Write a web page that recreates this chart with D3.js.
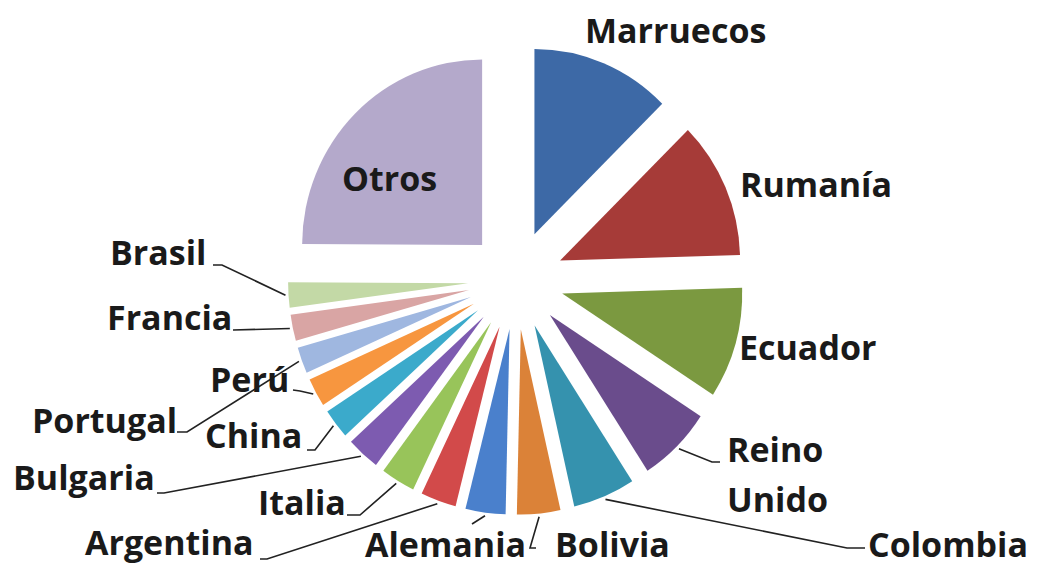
<!DOCTYPE html>
<html>
<head>
<meta charset="utf-8">
<script src="https://cdn.jsdelivr.net/npm/d3@7"></script>
<style>
  body { margin: 0; background: #fff; }
  svg { display: block; }
  .lbl { font-family: "Open Sans", sans-serif; font-weight: 700; font-size: 34px; fill: #1a1a1a; }
</style>
</head>
<body>
<svg id="chart" width="1039" height="569"></svg>
<script>
// data, clockwise from 12 o'clock
const categories = ["Marruecos", "Rumanía", "Ecuador", "Reino Unido", "Colombia", "Bolivia",
  "Alemania", "Argentina", "Italia", "Bulgaria", "China", "Perú", "Portugal", "Francia", "Brasil", "Otros"];
const values = [12.6, 12.0, 9.7, 6.7, 5.6, 3.9, 3.6, 3.2, 3.1, 3.0, 2.6, 2.5, 2.3, 2.3, 2.2, 25.0];
const colors = ["#3d69a6", "#a63b38", "#7b9940", "#6a4c8c", "#3592ae", "#db8238",
  "#4a80cc", "#d24a4a", "#98c45a", "#7d5bb0", "#3baacb", "#f7963f", "#9fb7e0", "#d9a5a4", "#c3d9a6", "#b4a9cb"];

// label layout: text start + baseline, optional leader (points from the text side)
const labelPos = {
  "Marruecos":   { x: 585, y: 43 },
  "Rumanía":     { x: 740, y: 197 },
  "Ecuador":     { x: 739, y: 360 },
  "Reino Unido": { x: 727, y: 462, lines: ["Reino", "Unido"], lead: [[720, 462], [712, 462]] },
  "Colombia":    { x: 868, y: 557, lead: [[865, 548], [847, 548]] },
  "Bolivia":     { x: 555, y: 557, lead: [[536, 548], [530, 548]] },
  "Alemania":    { x: 365, y: 557, lead: [[472, 524]] },
  "Argentina":   { x: 85,  y: 555, lead: [[260, 559], [267, 559]] },
  "Italia":      { x: 258, y: 515, lead: [[347, 515], [360, 515]] },
  "Bulgaria":    { x: 13,  y: 490, lead: [[157, 493], [164, 493]] },
  "China":       { x: 205, y: 448, lead: [[307, 450], [315, 450]] },
  "Perú":        { x: 210, y: 392, lead: [[293, 390], [300, 391]] },
  "Portugal":    { x: 32,  y: 433, lead: [[177, 432], [187, 432]] },
  "Francia":     { x: 107, y: 330, lead: [[233, 330]] },
  "Brasil":      { x: 110, y: 265, lead: [[213, 265], [222, 265]] },
  "Otros":       { x: 342, y: 191 }
};

let svg = d3.select("#chart");
let cx = 516, cy = 280;
let radius = 180;
let explode = 48;
let sy = 1.03; // reference is a touch taller than wide

let slices = categories.map((c, i) => ({ name: c, value: values[i], color: colors[i] }));

let pie = d3.pie().sort(null).value(d => d.value).startAngle(0).endAngle(2 * Math.PI);
let arcs = pie(slices);
let arc = d3.arc().innerRadius(0).outerRadius(radius);

let pie_g = svg.append("g")
    .attr("transform", "translate(" + cx + "," + cy + ") scale(1," + sy + ")");

pie_g.selectAll("path")
  .data(arcs)
  .enter().append("path")
    .attr("d", arc)
    .attr("fill", d => d.data.color)
    .attr("transform", function(d) {
      let m = (d.startAngle + d.endAngle) / 2;
      return "translate(" + (Math.sin(m) * explode) + "," + (-Math.cos(m) * explode) + ")";
    });

// point on the outer edge of an exploded slice, page coords
function edgePoint(d, extra) {
  let m = (d.startAngle + d.endAngle) / 2;
  let rr = radius + explode + extra;
  return [cx + Math.sin(m) * rr, cy - Math.cos(m) * rr * sy];
}

let line_g = svg.append("g");
let text_g = svg.append("g");

arcs.forEach(function(d) {
  let p = labelPos[d.data.name];
  if (p.lead) {
    let pts = p.lead.concat([edgePoint(d, 3)]);
    line_g.append("path")
      .attr("d", d3.line()(pts))
      .attr("fill", "none")
      .attr("stroke", "#222")
      .attr("stroke-width", 1.6);
  }
  let lines = p.lines || [d.data.name];
  lines.forEach(function(t, k) {
    text_g.append("text")
      .attr("class", "lbl")
      .attr("x", p.x)
      .attr("y", p.y + k * 50)
      .text(t);
  });
});
</script>
</body>
</html>
